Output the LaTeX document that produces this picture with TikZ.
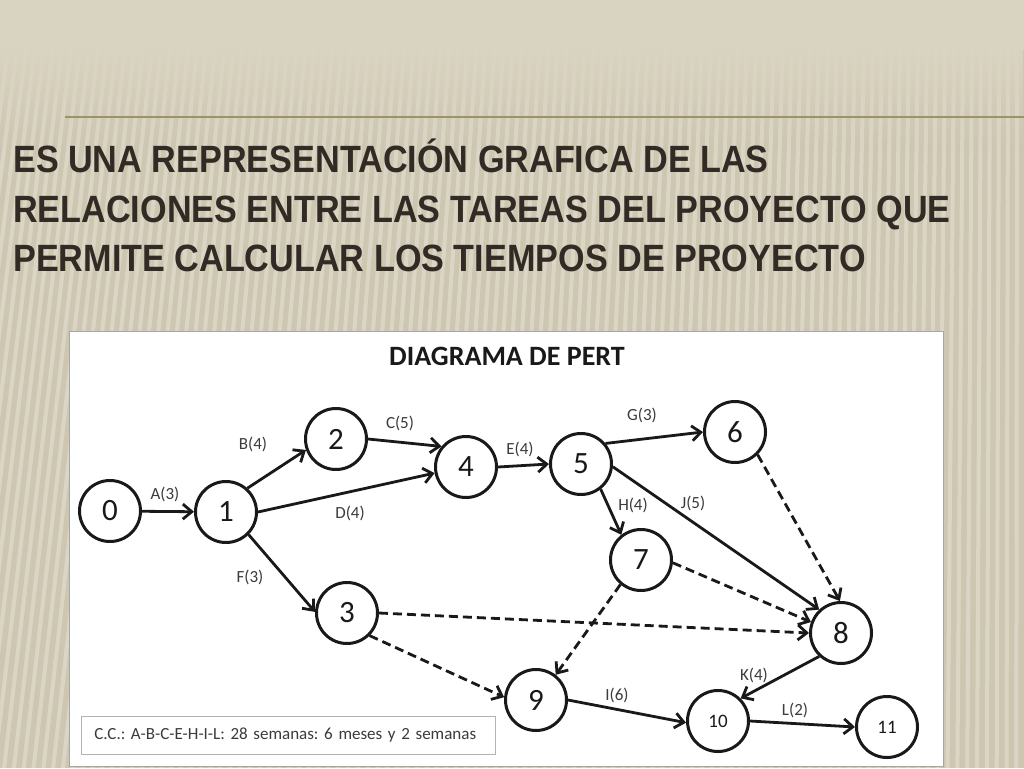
\documentclass[tikz,border=0pt]{standalone}
\usepackage{fontspec}
\setmainfont{Carlito}
\newfontfamily\headfont[FakeStretch=0.9]{Liberation Sans}
\usetikzlibrary{arrows.meta,fadings}
\definecolor{slidebg}{RGB}{205,198,176}
\definecolor{slidetop}{RGB}{217,211,193}
\definecolor{slideline}{RGB}{160,146,104}
\definecolor{headink}{RGB}{50,42,36}
\definecolor{ink}{RGB}{25,25,25}
\tikzfading[name=fadetop, top color=transparent!0, bottom color=transparent!100]
\frenchspacing

\begin{document}
\begin{tikzpicture}[
  x=1pt, y=-1pt,
  event/.style={draw=ink,circle,line width=3pt,minimum size=61pt,inner sep=0pt,
   text=ink,font=\fontsize{31}{31}\selectfont},
  bigevent/.style={event,font=\fontsize{19}{19}\selectfont},
  activity/.style={text=ink!85,inner sep=1pt,font=\fontsize{17}{17}\selectfont},
  headline/.style={anchor=base west,inner sep=0pt,text=headink,
   font=\headfont\bfseries\fontsize{38}{38}\selectfont},
  task/.style={draw=ink,line width=2.8pt,-{Straight Barb[length=9pt,width=15pt]}},
  dummy/.style={task,dash pattern=on 9pt off 5pt},
  stripe/.style={white,opacity=0.28,line width=4pt}
  ]
  \useasboundingbox (0,0) rectangle (1024,768);
  \fill[slidebg] (0,0) rectangle (1024,768);
  \foreach \x in {0,9,...,1030}
   \draw[stripe] (\x,40) -- ({\x-0.092*(1024-\x)},768);
  \fill[slidetop] (0,0) rectangle (1024,50);
  \fill[slidetop,path fading=fadetop] (0,49) rectangle (1024,150);
  \draw[slideline,line width=2pt] (65,117) -- (1024,117);

  \node[headline] (head1) at (13,172) {ES UNA REPRESENTACIÓN GRAFICA DE LAS};
  \node[headline] (head2) at (13,222) {RELACIONES ENTRE LAS TAREAS DEL PROYECTO QUE};
  \node[headline] (head3) at (13,271) {PERMITE CALCULAR LOS TIEMPOS DE PROYECTO};

  \fill[white,draw=black!35,line width=0.8pt] (69,331) rectangle (943,766);
  \node[anchor=base,text=ink,inner sep=0pt,font=\bfseries\fontsize{28}{28}\selectfont]
   (pert) at (507,365) {DIAGRAMA DE PERT};

  \node[event] (E0) at (110,511) {0};
  \node[event] (E1) at (226,512) {1};
  \node[event] (E2) at (336,439) {2};
  \node[event] (E3) at (347,613) {3};
  \node[event] (E4) at (466,467) {4};
  \node[event] (E5) at (581,464) {5};
  \node[event] (E6) at (735,432) {6};
  \node[event] (E7) at (641,560) {7};
  \node[event] (E8) at (841,633) {8};
  \node[event] (E9) at (536,700) {9};
  \node[bigevent] (E10) at (718,721) {10};
  \node[bigevent] (E11) at (887,727) {11};

  \draw[task] (E0) -- (E1);
  \draw[task] (E1.48) -- (E2.200);
  \draw[task] (E2.0) -- (E4.140);
  \draw[task] (E1.0) -- (E4.191);
  \draw[task] (E1.-45) -- (E3.178);
  \draw[task] (E4.0) -- (E5.180);
  \draw[task] (E5.40) -- (E6.180);
  \draw[task] (E5.-52) -- (E7.128);
  \draw[task] (E5.-5) -- (E8.133);
  \draw[task] (E8.227) -- (E10.45);
  \draw[task] (E9.0) -- (E10.183);
  \draw[task] (E10.0) -- (E11.180);
  \draw[dummy] (E6.-45) -- (E8.92);
  \draw[dummy] (E7.-5) -- (E8.160);
  \draw[dummy] (E3.0) -- (E8.180);
  \draw[dummy] (E3.-45) -- (E9.175);
  \draw[dummy] (E7.230) -- (E9.52);

  \node[activity] (A) at (165,494) {A(3)};
  \node[activity] (B) at (253,444) {B(4)};
  \node[activity] (C) at (400,423) {C(5)};
  \node[activity] (D) at (350,513) {D(4)};
  \node[activity] (E) at (520,449) {E(4)};
  \node[activity] (F) at (250,577) {F(3)};
  \node[activity] (G) at (642,415) {G(3)};
  \node[activity] (H) at (633,505) {H(4)};
  \node[activity] (I) at (617,695) {I(6)};
  \node[activity] (J) at (693,503) {J(5)};
  \node[activity] (K) at (754,675) {K(4)};
  \node[activity] (L) at (795,710) {L(2)};

  \node[draw=black!30,line width=0.8pt,fill=white,text=ink!85,anchor=north west,
   minimum width=414pt,minimum height=38pt,inner xsep=13pt,text width=388pt,
   font=\fontsize{17}{17}\selectfont]
   (cc) at (81,716) {C.C.: A-B-C-E-H-I-L: 28 semanas: 6 meses y 2 semanas};
\end{tikzpicture}
\end{document}
